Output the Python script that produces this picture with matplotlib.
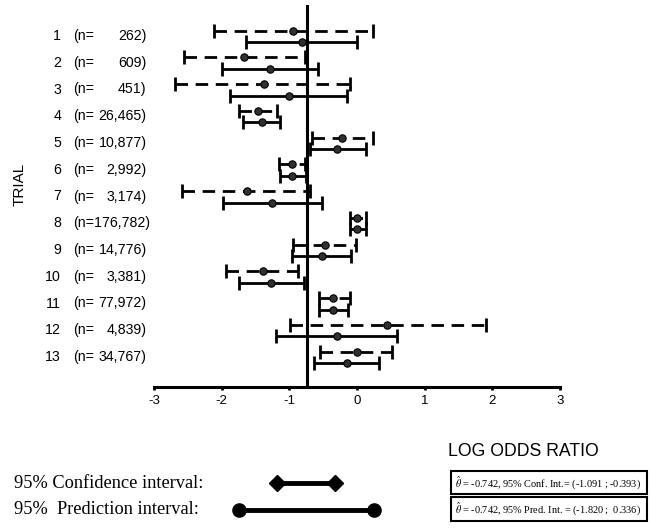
import matplotlib
matplotlib.use("Agg")
import matplotlib.pyplot as plt
from matplotlib.lines import Line2D
from matplotlib.patches import Rectangle

plt.rcParams['font.family'] = ['Liberation Sans', 'DejaVu Sans']
plt.rcParams['mathtext.fontset'] = 'stix'
plt.rcParams['lines.scale_dashes'] = False

# ---------------- data ----------------
trials = [1, 2, 3, 4, 5, 6, 7, 8, 9, 10, 11, 12, 13]
n_labels = ["262", "609", "451", "26,465", "10,877", "2,992", "3,174",
            "176,782", "14,776", "3,381", "77,972", "4,839", "34,767"]

# dashed (upper) intervals
dash_lo = [-2.11, -2.55, -2.69, -1.74, -0.66, -1.16, -2.58, -0.11, -0.94, -1.94, -0.56, -0.99, -0.55]
dash_est = [-0.94, -1.67, -1.38, -1.46, -0.22, -0.96, -1.63, 0.00, -0.47, -1.39, -0.35, 0.45, 0.00]
dash_hi = [0.24, -0.77, -0.10, -1.18, 0.24, -0.77, -0.69, 0.14, -0.01, -0.87, -0.11, 1.90, 0.52]

# solid (lower) intervals
solid_lo = [-1.64, -1.995, -1.87, -1.68, -0.70, -1.14, -1.98, -0.11, -0.96, -1.75, -0.56, -1.19, -0.64]
solid_est = [-0.82, -1.29, -1.01, -1.40, -0.29, -0.96, -1.25, 0.00, -0.52, -1.27, -0.36, -0.30, -0.15]
solid_hi = [0.00, -0.58, -0.15, -1.14, 0.13, -0.76, -0.52, 0.13, -0.09, -0.78, -0.14, 0.59, 0.33]

theta_hat = -0.742
conf_int = (-1.091, -0.393)
pred_int = (-1.820, 0.336)
xticks = [-3, -2, -1, 0, 1, 2, 3]

# ---------------- figure ----------------
W, H = 650, 532
fig = plt.figure(figsize=(W / 100, H / 100), dpi=100)


def fx(px):
    return px / W


def fy(py):
    return 1 - py / H


ax = fig.add_axes([fx(154), fy(387), fx(560) - fx(154), fy(5) - fy(387)])
ax.set_xlim(-3, 3)
ax.set_ylim(14.12, -0.16)

d_off = -0.2
s_off = 0.23
yd = [t + d_off for t in trials]
ys = [t + s_off for t in trials]

# dashed intervals
ax.hlines(yd, dash_lo, dash_hi, colors='black', linewidth=2.0,
          linestyles=[(0, (9, 5.5))], zorder=3)
ax.plot(dash_lo, yd, ls='none', marker='|', ms=10, mew=2.0, color='black', zorder=3)
ax.plot(dash_hi, yd, ls='none', marker='|', ms=10, mew=2.0, color='black', zorder=3)
ax.plot(dash_est, yd, ls='none', marker='o', ms=5.3, mfc='#303030', mec='black',
        mew=0.8, zorder=4)

# solid intervals
ax.hlines(ys, solid_lo, solid_hi, colors='black', linewidth=2.0, zorder=3)
ax.plot(solid_lo, ys, ls='none', marker='|', ms=10, mew=2.0, color='black', zorder=3)
ax.plot(solid_hi, ys, ls='none', marker='|', ms=10, mew=2.0, color='black', zorder=3)
ax.plot(solid_est, ys, ls='none', marker='o', ms=5.3, mfc='#303030', mec='black',
        mew=0.8, zorder=4)

# overall estimate line
ax.axvline(theta_hat, color='black', linewidth=2.2, zorder=2)

for s in ['top', 'right', 'left']:
    ax.spines[s].set_visible(False)
ax.spines['bottom'].set_linewidth(2.2)
ax.set_yticks([])
ax.set_xticks(xticks)
ax.set_xticklabels([str(v) for v in xticks])
ax.tick_params(axis='x', length=2.5, width=2, direction='out', pad=3.5, labelsize=9.5)

# trial labels
LFS = 10.2
for t, n in zip(trials, n_labels):
    ypix = 36 + (t - 1) * 26.75
    fig.text(fx(61), fy(ypix), str(t), ha='right', va='center', fontsize=LFS)
    if n == "176,782":
        fig.text(fx(73), fy(ypix), "(n=176,782)", ha='left', va='center', fontsize=LFS)
    else:
        fig.text(fx(73), fy(ypix), "(n=", ha='left', va='center', fontsize=LFS)
        fig.text(fx(146.5), fy(ypix), n + ")", ha='right', va='center', fontsize=LFS)

fig.text(fx(20), fy(184), "TRIAL", rotation=90, ha='center', va='center', fontsize=11)
fig.text(fx(523), fy(452), "LOG ODDS RATIO", ha='center', va='center', fontsize=12.7)

# legend
serif = ['Liberation Serif', 'DejaVu Serif']
fig.text(fx(14), fy(483), "95% Confidence interval:", ha='left', va='center',
         fontsize=13.2, family=serif)
fig.text(fx(14), fy(510), "95%  Prediction interval:", ha='left', va='center',
         fontsize=13.2, family=serif)

fig.add_artist(Line2D([fx(277), fx(335)], [fy(483), fy(483)], transform=fig.transFigure,
                      color='black', lw=3.5, marker='D', ms=8, solid_capstyle='butt'))
fig.add_artist(Line2D([fx(239), fx(374)], [fy(510), fy(510)], transform=fig.transFigure,
                      color='black', lw=3.5, marker='o', ms=9.5, solid_capstyle='butt'))

# boxes
fig.add_artist(Rectangle((fx(451), fy(494)), fx(647) - fx(451), fy(471) - fy(494),
                         transform=fig.transFigure, fill=False, lw=1.5, ec='black'))
fig.add_artist(Rectangle((fx(451), fy(521)), fx(647) - fx(451), fy(497) - fy(521),
                         transform=fig.transFigure, fill=False, lw=1.5, ec='black'))
BFS = 7.4
fig.text(fx(455), fy(483),
         r"$\hat{\theta}$ = %.3f, 95%% Conf. Int.= (%.3f ; %.3f)" % (theta_hat, conf_int[0], conf_int[1]),
         ha='left', va='center', fontsize=BFS, family=serif)
fig.text(fx(455), fy(509),
         r"$\hat{\theta}$ = %.3f, 95%% Pred. Int. = (%.3f ;  %.3f)" % (theta_hat, pred_int[0], pred_int[1]),
         ha='left', va='center', fontsize=BFS, family=serif)

fig.savefig("out.png", dpi=100)
